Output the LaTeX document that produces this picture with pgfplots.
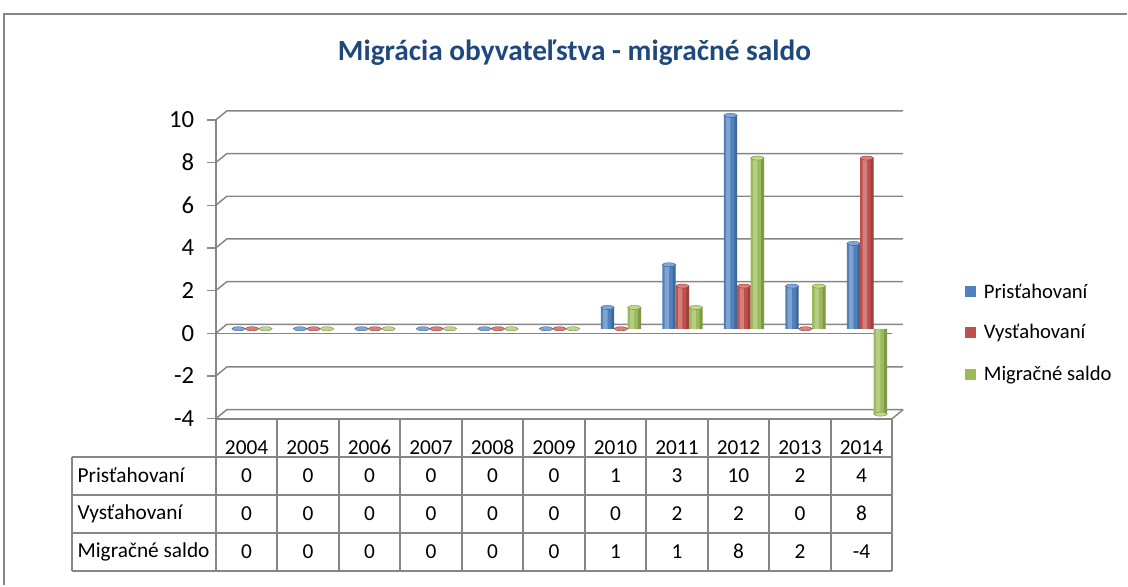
\documentclass[border=0pt]{standalone}
\usepackage{fontspec}
\setmainfont{Carlito}
\usepackage{pgfplots}
\usepackage{pgfplotstable}
\pgfplotsset{compat=1.18}

\definecolor{gridgray}{HTML}{868686}
\definecolor{titleblue}{HTML}{1F497D}
\definecolor{cblue}{HTML}{4F81BD}
\definecolor{cblueD}{HTML}{38608F}
\definecolor{cblueL}{HTML}{7FA6DA}
\definecolor{cred}{HTML}{C0504D}
\definecolor{credD}{HTML}{8E3937}
\definecolor{credL}{HTML}{DE7D79}
\definecolor{cgreen}{HTML}{9BBB59}
\definecolor{cgreenD}{HTML}{718A3E}
\definecolor{cgreenL}{HTML}{BDD889}

% x = category index, values per year
\pgfplotstableread{
x year pri vys sal
0 2004 0 0 0
1 2005 0 0 0
2 2006 0 0 0
3 2007 0 0 0
4 2008 0 0 0
5 2009 0 0 0
6 2010 1 0 1
7 2011 3 2 1
8 2012 10 2 8
9 2013 2 0 2
10 2014 4 8 -4
}\migdata

\newcommand\tabfont{\fontsize{16}{16}\selectfont}
\def\cw{61.545}

\pgfplotsset{
  depth/.style={xshift=4.1pt, yshift=3.4pt},
  cylbase/.style={ybar, bar width=10.1pt, bar shift=0pt, fill=#1, draw=none, depth},
  cylhi/.style={ybar, bar width=3.2pt, bar shift=-1.6pt, fill=white, fill opacity=0.28, draw=none, depth},
  cylsh/.style={ybar, bar width=2.2pt, bar shift=3.95pt, fill=black, fill opacity=0.18, draw=none, depth},
  cylcap/.style 2 args={only marks, mark=*, mark size=5.05pt,
    mark options={xscale=1, yscale=0.3, fill=#2, draw=#1, line width=0.3pt}, depth},
}

\begin{document}
\begin{tikzpicture}
\begin{scope}[x=0.75pt,y=-0.75pt]
  \path[use as bounding box] (0,0) rectangle (1128,586);
\end{scope}

\begin{axis}[
  at={(162pt,-314.25pt)}, anchor=south west,
  scale only axis, width=507.75pt, height=224.25pt,
  xmin=-0.5, xmax=10.5, ymin=-4, ymax=10,
  axis x line=none, axis y line*=left,
  y axis line style={draw=gridgray, line width=1.1pt},
  ytick={-4,-2,...,10}, tick align=outside, major tick length=6.75pt,
  ytick style={draw=gridgray, line width=1.1pt},
  yticklabel style={font=\fontsize{18.5}{18.5}\selectfont, xshift=-6pt},
  /pgf/number format/assume math mode=true,
  clip=false,
]
\pgfplotsinvokeforeach{-4,-2,0,2,4,6,8,10}{
  \draw[gridgray, line width=1.1pt] (axis cs:-0.5,#1) -- ([shift={(8.25pt,6.75pt)}]axis cs:-0.5,#1)
    -- ([shift={(8.25pt,6.75pt)}]axis cs:10.5,#1);
}
\draw[gridgray, line width=1.1pt] (axis cs:-0.5,0) -- (axis cs:10.5,0);
\draw[gridgray, line width=1.1pt] (axis cs:10.5,-4) -- ([shift={(8.25pt,6.75pt)}]axis cs:10.5,-4);

% Prisťahovaní
\addplot[cylbase=cblue] table[x expr=\thisrow{x}-0.2188, y=pri]{\migdata};
\addplot[cylhi] table[x expr=\thisrow{x}-0.2188, y=pri]{\migdata};
\addplot[cylsh] table[x expr=\thisrow{x}-0.2188, y=pri]{\migdata};
\addplot[cylcap={cblueD}{cblueL}] table[x expr=\thisrow{x}-0.2188, y=pri]{\migdata};
% Vysťahovaní
\addplot[cylbase=cred] table[x=x, y=vys]{\migdata};
\addplot[cylhi] table[x=x, y=vys]{\migdata};
\addplot[cylsh] table[x=x, y=vys]{\migdata};
\addplot[cylcap={credD}{credL}] table[x=x, y=vys]{\migdata};
% Migračné saldo
\addplot[cylbase=cgreen] table[x expr=\thisrow{x}+0.2188, y=sal]{\migdata};
\addplot[cylhi] table[x expr=\thisrow{x}+0.2188, y=sal]{\migdata};
\addplot[cylsh] table[x expr=\thisrow{x}+0.2188, y=sal]{\migdata};
\addplot[cylcap={cgreenD}{cgreenL}] table[x expr=\thisrow{x}+0.2188, y=sal]{\migdata};
\end{axis}

\begin{scope}[x=0.75pt,y=-0.75pt]
  % outer frame (top and left edges visible)
  \draw[gridgray, line width=1.5pt] (4,586) -- (4,14) -- (1128,14);
  % title
  \node[font=\bfseries\fontsize{22}{22}\selectfont, text=titleblue] at (575,53)
    {Migrácia obyvateľstva - migračné saldo};
  % data table
  \begin{scope}[gridgray, line width=1.5pt]
    \foreach \i in {0,...,11} \draw (216+\i*\cw,419) -- (216+\i*\cw,571);
    \draw (216,419) -- (893,419);
    \foreach \yy in {457,495,533,571} \draw (72,\yy) -- (893,\yy);
    \draw (72,457) -- (72,571);
  \end{scope}
  \foreach \i in {0,...,10}{
    \pgfplotstablegetelem{\i}{year}\of\migdata
    \node[font=\tabfont, anchor=base] at (216+\i*\cw+0.5*\cw,455) {\pgfplotsretval};
    \pgfplotstablegetelem{\i}{pri}\of\migdata
    \node[font=\tabfont] at (216+\i*\cw+0.5*\cw,476) {\pgfplotsretval};
    \pgfplotstablegetelem{\i}{vys}\of\migdata
    \node[font=\tabfont] at (216+\i*\cw+0.5*\cw,514) {\pgfplotsretval};
    \pgfplotstablegetelem{\i}{sal}\of\migdata
    \node[font=\tabfont] at (216+\i*\cw+0.5*\cw,552) {\pgfplotsretval};
  }
  \node[font=\tabfont, anchor=west] at (73,476) {Prisťahovaní};
  \node[font=\tabfont, anchor=west] at (73,514) {Vysťahovaní};
  \node[font=\tabfont, anchor=west] at (73,552) {Migračné saldo};
  % legend
  \fill[cblue] (966,286) rectangle (977,297);
  \fill[cred] (966,327) rectangle (977,338);
  \fill[cgreen] (966,369) rectangle (977,380);
  \node[font=\fontsize{15.5}{15.5}\selectfont, anchor=west] at (980,292) {Prisťahovaní};
  \node[font=\fontsize{15.5}{15.5}\selectfont, anchor=west] at (980,333) {Vysťahovaní};
  \node[font=\fontsize{15.5}{15.5}\selectfont, anchor=west] at (980,375) {Migračné saldo};
\end{scope}
\end{tikzpicture}
\end{document}
